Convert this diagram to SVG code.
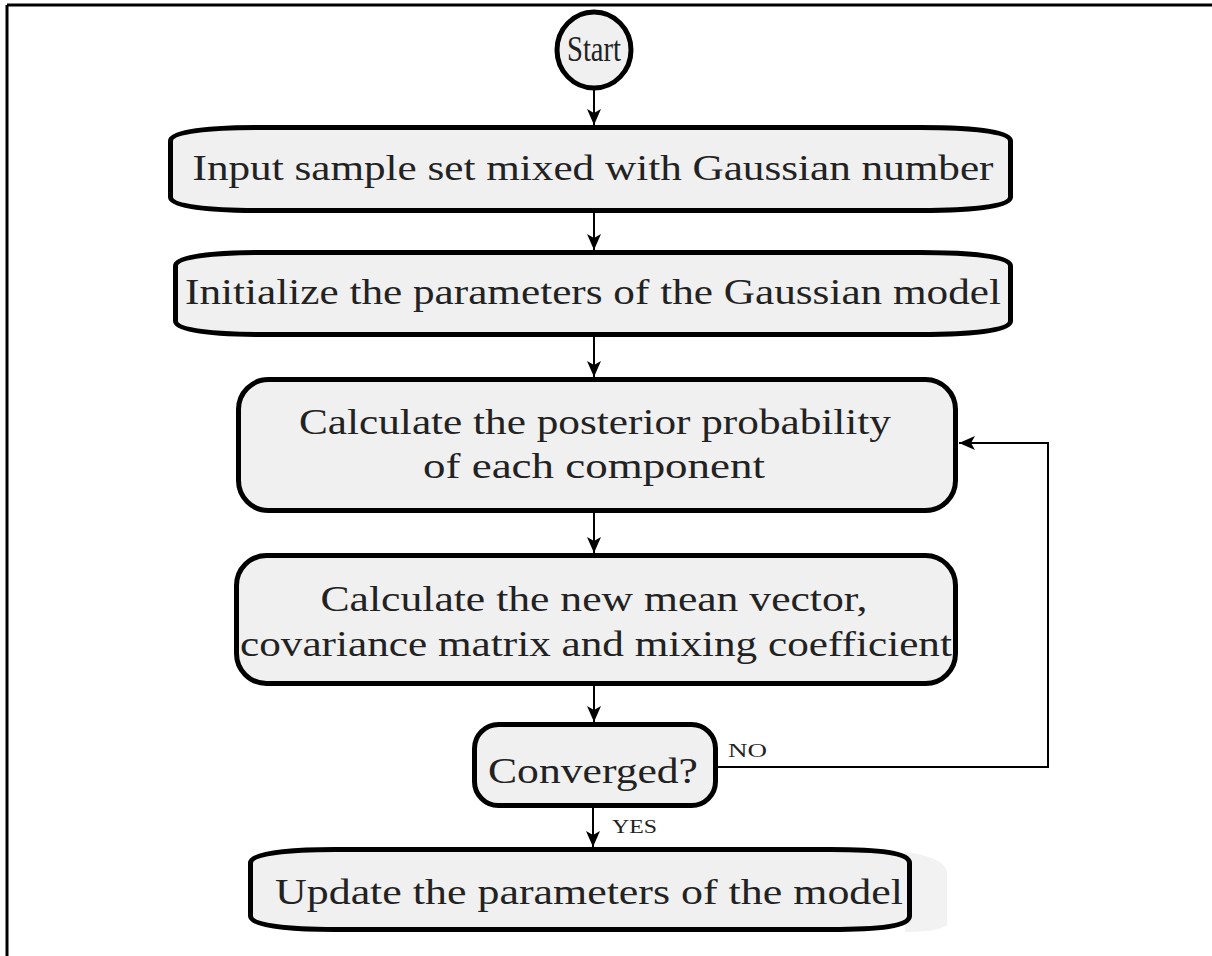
<svg xmlns="http://www.w3.org/2000/svg" width="1212" height="956" viewBox="0 0 1212 956">
  <style>
    .box { fill: #f0f0f0; stroke: #000; stroke-width: 5; }
    .t { font-family: "Liberation Serif", "Times New Roman", serif; font-size: 36px; fill: #222; text-anchor: middle; }
    .lbl { font-family: "Liberation Serif", "Times New Roman", serif; font-size: 19px; fill: #222; }
    .conn { fill: none; stroke: #000; stroke-width: 2; }
  </style>
  <defs>
    <marker id="arr" markerUnits="userSpaceOnUse" markerWidth="16" markerHeight="14" viewBox="0 0 16 14" refX="16" refY="7" orient="auto">
      <path d="M0,0 L16,7 L0,14 L4,7 Z" fill="#000"/>
    </marker>
  </defs>
  <rect width="1212" height="956" fill="#fff"/>
  <g id="frame">
    <line x1="7" y1="5" x2="1212" y2="5" stroke="#000" stroke-width="3"/>
    <line x1="7" y1="5" x2="7" y2="956" stroke="#000" stroke-width="3"/>
  </g>

  <g id="start">
    <ellipse cx="594" cy="50" rx="37" ry="38" class="box"/>
    <text x="594" y="61" class="t" font-size="30" textLength="54" lengthAdjust="spacingAndGlyphs">Start</text>
  </g>

  <g id="input">
    <path class="box" d="M170.5,141 C170.5,131 210,127.5 260,127.5 L920,127.5 C970,127.5 1010.5,131 1010.5,141 L1010.5,197 C1010.5,207 970,210.5 920,210.5 L260,210.5 C210,210.5 170.5,207 170.5,197 Z"/>
    <text x="593" y="180" class="t" textLength="801" lengthAdjust="spacingAndGlyphs">Input sample set mixed with Gaussian number</text>
  </g>

  <g id="init">
    <path class="box" d="M175.5,266 C175.5,256 215,252.5 265,252.5 L920,252.5 C970,252.5 1010.5,256 1010.5,266 L1010.5,321 C1010.5,331 970,334.5 920,334.5 L265,334.5 C215,334.5 175.5,331 175.5,321 Z"/>
    <text x="593" y="304" class="t" textLength="816" lengthAdjust="spacingAndGlyphs">Initialize the parameters of the Gaussian model</text>
  </g>

  <g id="posterior">
    <rect class="box" x="238.5" y="379.5" width="717" height="131" rx="30" ry="30"/>
    <text x="595" y="434" class="t" textLength="592" lengthAdjust="spacingAndGlyphs">Calculate the posterior probability</text>
    <text x="594" y="478" class="t" textLength="342" lengthAdjust="spacingAndGlyphs">of each component</text>
  </g>

  <g id="update-stats">
    <rect class="box" x="236.5" y="555.5" width="719" height="128" rx="30" ry="30"/>
    <text x="594" y="611" class="t" textLength="547" lengthAdjust="spacingAndGlyphs">Calculate the new mean vector,</text>
    <text x="596" y="656" class="t" textLength="712" lengthAdjust="spacingAndGlyphs">covariance matrix and mixing coefficient</text>
  </g>

  <g id="converged">
    <rect class="box" x="474.5" y="724.5" width="241" height="81" rx="24" ry="24"/>
    <text x="593" y="783" class="t" textLength="210" lengthAdjust="spacingAndGlyphs">Converged?</text>
  </g>

  <g id="final">
    <path d="M905,852 C930,855 945,862 947,872 L947,925 C940,930 925,932 905,932 Z" fill="#f2f2f2"/>
    <path class="box" d="M250.5,863 C250.5,853 290,849.5 335,849.5 L830,849.5 C880,849.5 909.5,853 909.5,863 L909.5,916 C909.5,926 880,929.5 830,929.5 L335,929.5 C290,929.5 250.5,926 250.5,916 Z"/>
    <text x="589" y="904" class="t" textLength="628" lengthAdjust="spacingAndGlyphs">Update the parameters of the model</text>
  </g>

  <g id="connectors">
    <line class="conn" x1="594" y1="88" x2="594" y2="125" marker-end="url(#arr)"/>
    <line class="conn" x1="594" y1="213" x2="594" y2="250" marker-end="url(#arr)"/>
    <line class="conn" x1="594" y1="337" x2="594" y2="377" marker-end="url(#arr)"/>
    <line class="conn" x1="594" y1="513" x2="594" y2="553" marker-end="url(#arr)"/>
    <line class="conn" x1="594" y1="686" x2="594" y2="722" marker-end="url(#arr)"/>
    <line class="conn" x1="593" y1="808" x2="593" y2="847" marker-end="url(#arr)"/>
    <polyline class="conn" points="718,767 1048,767 1048,443 959,443" marker-end="url(#arr)"/>
    <text x="728" y="757" class="lbl" textLength="39" lengthAdjust="spacingAndGlyphs">NO</text>
    <text x="612" y="833" class="lbl" textLength="45" lengthAdjust="spacingAndGlyphs">YES</text>
  </g>
</svg>
